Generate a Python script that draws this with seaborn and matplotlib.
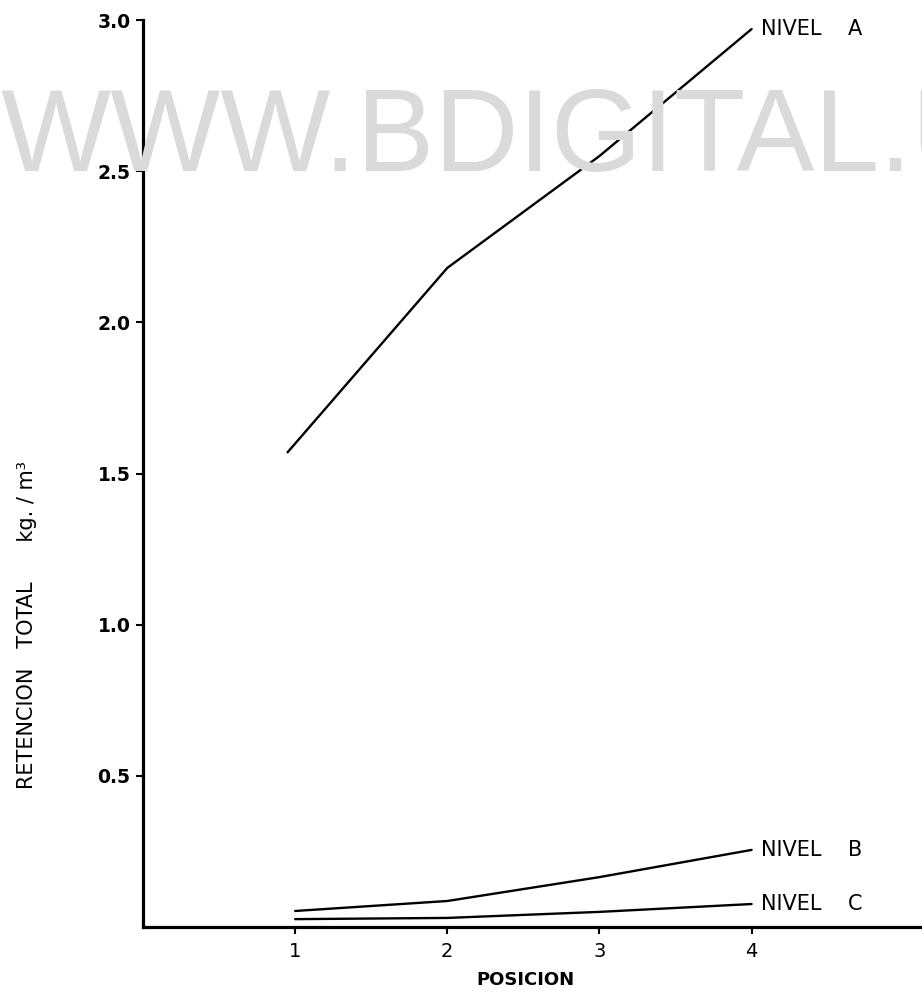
import matplotlib
matplotlib.use("Agg")
import matplotlib.pyplot as plt
import seaborn as sns
import pandas as pd

# Data
positions_a = [0.95, 2, 3, 4]
positions_bc = [1, 2, 3, 4]
nivel_a = [1.57, 2.18, 2.55, 2.97]
nivel_b = [0.053, 0.086, 0.165, 0.255]
nivel_c = [0.026, 0.030, 0.050, 0.076]
series_names = ["NIVEL    A", "NIVEL    B", "NIVEL    C"]
y_ticks = [0.5, 1.0, 1.5, 2.0, 2.5, 3.0]
x_ticks = [1, 2, 3, 4]

df = pd.DataFrame({
    "pos": positions_a + positions_bc + positions_bc,
    "val": nivel_a + nivel_b + nivel_c,
    "nivel": [series_names[0]] * 4 + [series_names[1]] * 4 + [series_names[2]] * 4,
})

sns.set_style("ticks")
plt.rcParams["font.family"] = ["DejaVu Sans"]
plt.rcParams["text.color"] = "black"
plt.rcParams["axes.labelcolor"] = "black"
plt.rcParams["xtick.color"] = "black"
plt.rcParams["ytick.color"] = "black"

fig = plt.figure(figsize=(9.22, 9.91), dpi=100)
ax = fig.add_axes([143 / 922, 1 - 927 / 991, 1 - 143 / 922, (927 - 20) / 991])

# Watermark
fig.text(0.0, 1 - 171 / 991, "WWW.BDIGITAL.U", fontsize=84, color="#dadada",
         family="Liberation Sans", ha="left", va="baseline", zorder=0)
ax.set_facecolor("none")

sns.lineplot(data=df, x="pos", y="val", hue="nivel",
             palette=["black", "black", "black"], linewidth=1.7,
             legend=False, ax=ax)

ax.set_xlim(0, 5.12)
ax.set_ylim(0, 3.0)
ax.set_xticks(x_ticks)
ax.set_xticklabels([str(t) for t in x_ticks], fontsize=14)
ax.set_yticks(y_ticks)
ax.set_yticklabels([f"{t:.1f}" for t in y_ticks], fontsize=13.5, fontweight="bold")
ax.tick_params(axis="both", direction="out", length=5, width=1.5, colors="black")
ax.tick_params(axis="x", pad=6)
ax.tick_params(axis="y", pad=4)
for s in ["top", "right"]:
    ax.spines[s].set_visible(False)
for s in ["left", "bottom"]:
    ax.spines[s].set_linewidth(2.3)
    ax.spines[s].set_color("black")

# End labels
for name, vals in zip(series_names, [nivel_a, nivel_b, nivel_c]):
    ax.text(4.06, vals[-1], name, fontsize=15, ha="left", va="center")

ax.set_xlabel("POSICION", fontsize=13, fontweight="bold")
ax.xaxis.set_label_coords((525 - 143) / 779, -(980 - 927) / 907)
ax.xaxis.label.set_va("center")
ax.set_ylabel("RETENCION   TOTAL      kg. / m³", fontsize=15)
ax.yaxis.set_label_coords(-0.136, 0.333)

fig.savefig("out.png", dpi=100)
